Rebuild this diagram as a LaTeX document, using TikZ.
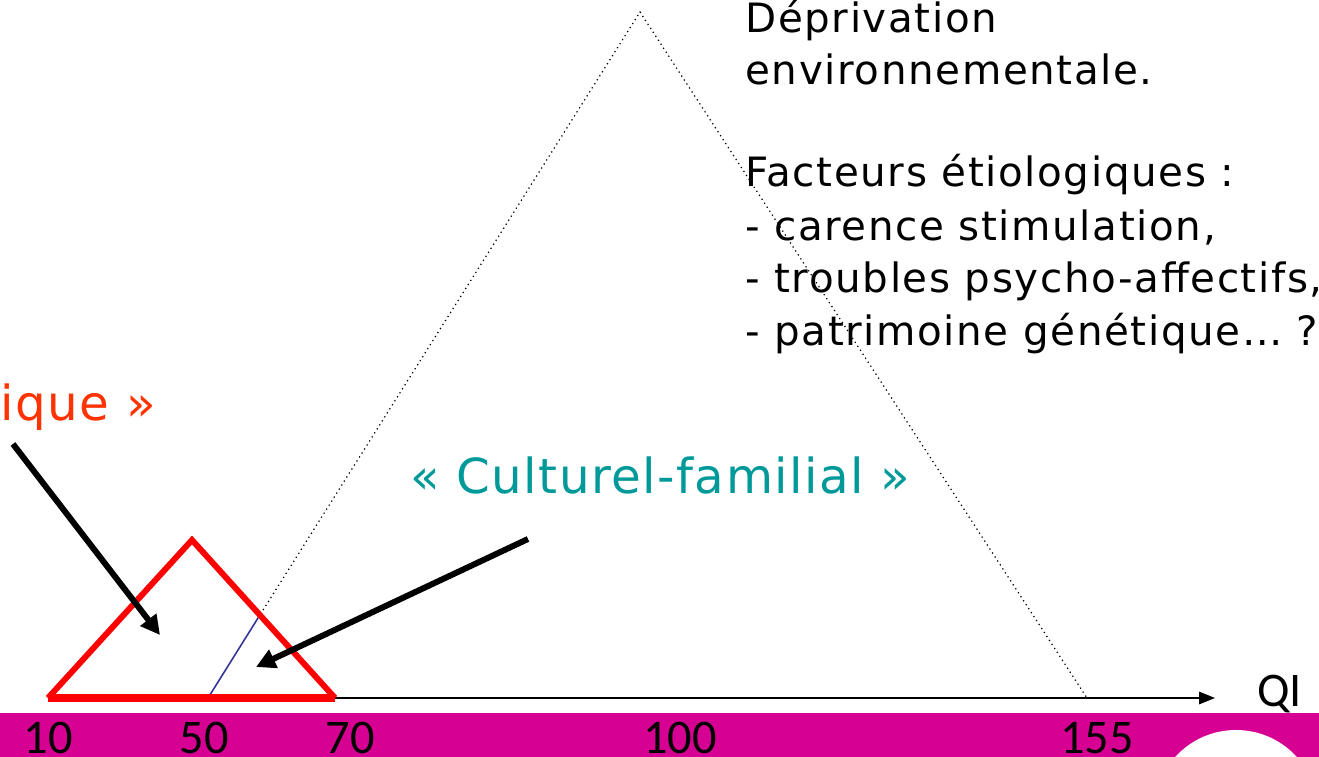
\documentclass[tikz,border=0pt]{standalone}
\usepackage{fontspec}
\usepackage{tikz}
\usetikzlibrary{arrows.meta}
\newfontfamily\comicfont[LetterSpace=4]{DejaVu Sans}
\newfontfamily\labelfont[LetterSpace=3]{DejaVu Sans}
\newfontfamily\calfont{Carlito}
\definecolor{bandmagenta}{RGB}{214,0,147}
\definecolor{qired}{RGB}{255,0,0}
\definecolor{orglabel}{RGB}{255,51,0}
\definecolor{culturteal}{RGB}{0,153,153}
\definecolor{overlapblue}{RGB}{51,51,153}

\begin{document}
\begin{tikzpicture}[
        x = 0.02cm,
        y = -0.02cm,
        textline/.style = {
            font = \comicfont\fontsize{23}{30}\selectfont,
            inner sep = 0pt,
            anchor = base west
        },
        bigline/.style = {
            font = \labelfont\fontsize{27.5}{33}\selectfont,
            inner sep = 0pt,
            anchor = base west
        },
        tick/.style = {
            font = \calfont\fontsize{27.5}{30}\selectfont,
            inner sep = 0pt,
            anchor = base
        },
        pointer/.style = {
            line width = 3.4pt,
            -{Triangle[length=11pt, width=11pt]}
        }
    ]
    \useasboundingbox (0,0) rectangle (1319,757);

    % band and axis
    \fill[bandmagenta] (0,713) rectangle (1319,757);
    \fill[white] (1236,812) circle[radius=82];

    \coordinate (start) at (48,698);
    \coordinate (end) at (1215,698);
    \draw[line width = 1.1pt, -{Triangle[length=9pt, width=7pt]}] (start) -- (end);

    % big triangle
    \coordinate (bigtop) at (640,12);
    \coordinate (bigleft) at (208,698);
    \coordinate (bigright) at (1087,698);
    \coordinate (cut) at (258,618);
    \draw[dotted, line width = 0.7pt] (cut) -- (bigtop) -- (bigright);
    \draw[overlapblue, line width = 0.9pt] (bigleft) -- (cut);

    % small triangle
    \coordinate (smallleft) at (48,698);
    \coordinate (smalltop) at (192,540);
    \coordinate (smallright) at (335,698);
    \draw[qired, line width = 3.4pt] (smallleft) -- (smalltop) -- (smallright);
    \draw[qired, line width = 4pt] (smallleft) -- (smallright);

    % labels
    \node[textline] (l1) at (745,33) {Déprivation};
    \node[textline] (l2) at (745,85) {environnementale.};
    \node[textline] (l3) at (745,187) {Facteurs étiologiques :};
    \node[textline] (l4) at (745,240) {- carence stimulation,};
    \node[textline] (l5) at (745,292) {- troubles psycho-affectifs,};
    \node[textline] (l6) at (745,345) {- patrimoine génétique… ?};

    \node[bigline, anchor=base east, text=orglabel] (org) at (156,420) {« Organique »};
    \node[bigline, text=culturteal] (cult) at (410,493) {« Culturel-familial »};

    \node[tick] (t10) at (48,753) {10};
    \node[tick] (t50) at (204,753) {50};
    \node[tick] (t70) at (350,753) {70};
    \node[tick] (t100) at (680,753) {100};
    \node[tick] (t155) at (1097,753) {155};
    \node[tick, anchor=base west] (qi) at (1257,706) {QI};

    % arrows
    \coordinate (orgtail) at (13,444);
    \coordinate (orghead) at (160,635);
    \coordinate (culttail) at (528,539);
    \coordinate (culthead) at (256,667);
    \draw[pointer] (orgtail) -- (orghead);
    \draw[pointer] (culttail) -- (culthead);
\end{tikzpicture}
\end{document}
